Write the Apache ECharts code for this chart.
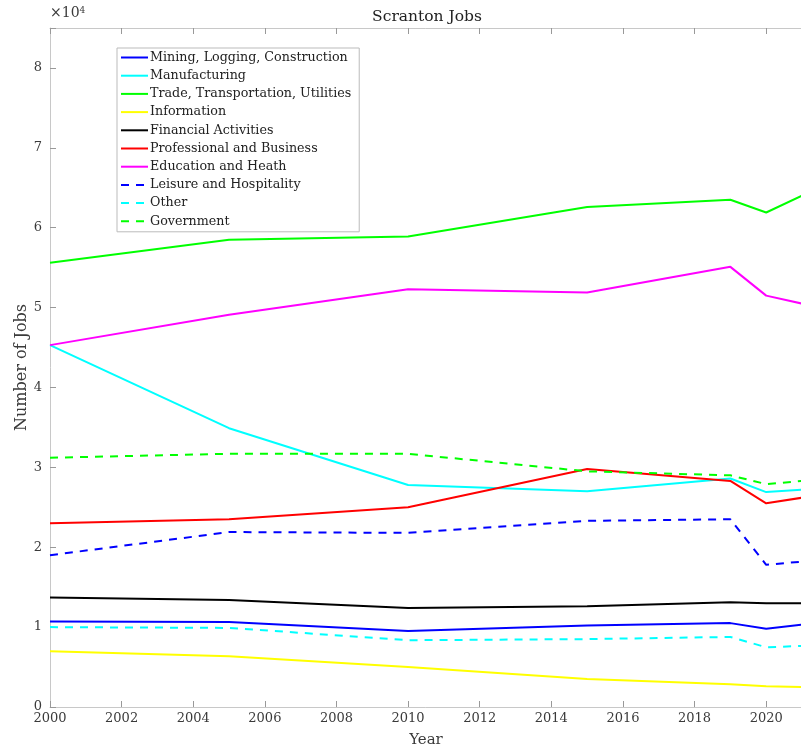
<!DOCTYPE html>
<html>
<head>
<meta charset="utf-8">
<script src="https://cdn.jsdelivr.net/npm/echarts@6/dist/echarts.min.js"></script>
<style>
  html, body { margin: 0; padding: 0; background: #fff; }
  #chart { width: 801px; height: 754px; }
</style>
</head>
<body>
<div id="chart"></div>
<script>
  // years sampled
  const years = [2000, 2005, 2010, 2015, 2019, 2020, 2021];

  // jobs per sector
  const mining = [10700, 10650, 9500, 10200, 10500, 9800, 10300];
  const manufacturing = [45300, 34900, 27800, 27000, 28600, 26900, 27200];
  const trade = [55600, 58500, 58900, 62600, 63500, 61900, 64000];
  const information = [6980, 6350, 5010, 3510, 2840, 2590, 2500];
  const financial = [13700, 13400, 12400, 12600, 13100, 13000, 13000];
  const professional = [23000, 23500, 25000, 29800, 28300, 25500, 26200];
  const education = [45300, 49100, 52300, 51900, 55100, 51500, 50500];
  const leisure = [19000, 21900, 21800, 23300, 23500, 17800, 18200];
  const other = [10000, 9900, 8360, 8500, 8770, 7480, 7640];
  const government = [31200, 31700, 31700, 29500, 29000, 27900, 28300];

  const yTicks = [0, 10000, 20000, 30000, 40000, 50000, 60000, 70000, 80000];

  const font = "DejaVu Serif";
  const axisGray = "#c8c8c8";
  const textGray = "#3a3a3a";

  function pairs(vals) {
    return years.map((y, i) => [y, vals[i]]);
  }

  function line(name, vals, color, dashed) {
    return {
      name: name,
      type: "line",
      data: pairs(vals),
      showSymbol: false,
      symbol: "none",
      lineStyle: { color: color, width: 2, type: dashed ? [8, 7] : "solid" },
      itemStyle: { color: color },
    };
  }

  const chart = echarts.init(document.getElementById("chart"));

  const option = {
    animation: false,
    title: {
      text: "Scranton Jobs",
      left: 422,
      top: 4,
      textAlign: "center",
      textStyle: { fontFamily: font, fontSize: 15.5, fontWeight: "normal", color: "#222" },
    },
    graphic: [
      {
        type: "text",
        left: 50,
        top: 6,
        style: {
          text: "\u00d710{s|4}",
          rich: { s: { fontSize: 9, verticalAlign: "top", fontFamily: font, fill: textGray } },
          fontFamily: font, fontSize: 14, fill: textGray,
        },
      },
    ],
    legend: {
      orient: "vertical",
      left: 117,
      top: 48,
      padding: [3, 8, 4, 3],
      itemWidth: 27,
      itemHeight: 14,
      itemGap: 5.2,
      borderColor: "#bbb",
      borderWidth: 1,
      backgroundColor: "#fff",
      itemStyle: { opacity: 0 },
      textStyle: { fontFamily: font, fontSize: 12.7, color: "#222", padding: [0, 0, 0, -3] },
      data: [
        "Mining, Logging, Construction",
        "Manufacturing",
        "Trade, Transportation, Utilities",
        "Information",
        "Financial Activities",
        "Professional and Business",
        "Education and Heath",
        "Leisure and Hospitality",
        "Other",
        "Government",
      ],
    },
    grid: { left: 50, right: -1, top: 28, bottom: 47, outerBoundsMode: "none" },
    xAxis: [
      {
        type: "value",
        min: 2000,
        max: 2021,
        interval: 2,
        name: "Year",
        nameLocation: "middle",
        nameGap: 26,
        nameTextStyle: { fontFamily: font, fontSize: 15, color: textGray },
        axisLine: { show: true, lineStyle: { color: axisGray, width: 1 } },
        axisTick: { show: true, inside: true, length: 6, lineStyle: { color: "#999" } },
        axisLabel: {
          fontFamily: font, fontSize: 13, color: textGray, margin: 5,
          formatter: (v) => (v % 2 === 0 ? String(v) : ""),
        },
        splitLine: { show: false },
      },
      {
        type: "value",
        position: "top",
        min: 2000,
        max: 2021,
        interval: 2,
        axisLine: { show: true, lineStyle: { color: axisGray, width: 1 } },
        axisTick: { show: true, inside: true, length: 6, lineStyle: { color: "#999" } },
        axisLabel: { show: false },
        splitLine: { show: false },
      },
    ],
    yAxis: {
      type: "value",
      min: 0,
      max: 85000,
      interval: 10000,
      name: "Number of Jobs",
      nameLocation: "middle",
      nameGap: 20,
      nameMoveOverlap: false,
      nameTextStyle: { fontFamily: font, fontSize: 16, color: textGray },
      axisLine: { show: true, lineStyle: { color: axisGray, width: 1 } },
      axisTick: { show: true, inside: true, length: 6, lineStyle: { color: "#999" } },
      axisLabel: {
        fontFamily: font, fontSize: 13, color: textGray, margin: 8,
        formatter: (v) => (yTicks.indexOf(v) >= 0 ? String(v / 10000) : ""),
      },
      splitLine: { show: false },
    },
    series: [
      line("Mining, Logging, Construction", mining, "#0000ff", false),
      line("Manufacturing", manufacturing, "#00ffff", false),
      line("Trade, Transportation, Utilities", trade, "#00ff00", false),
      line("Information", information, "#ffff00", false),
      line("Financial Activities", financial, "#000000", false),
      line("Professional and Business", professional, "#ff0000", false),
      line("Education and Heath", education, "#ff00ff", false),
      line("Leisure and Hospitality", leisure, "#0000ff", true),
      line("Other", other, "#00ffff", true),
      line("Government", government, "#00ff00", true),
    ],
  };

  chart.setOption(option);
</script>
</body>
</html>
